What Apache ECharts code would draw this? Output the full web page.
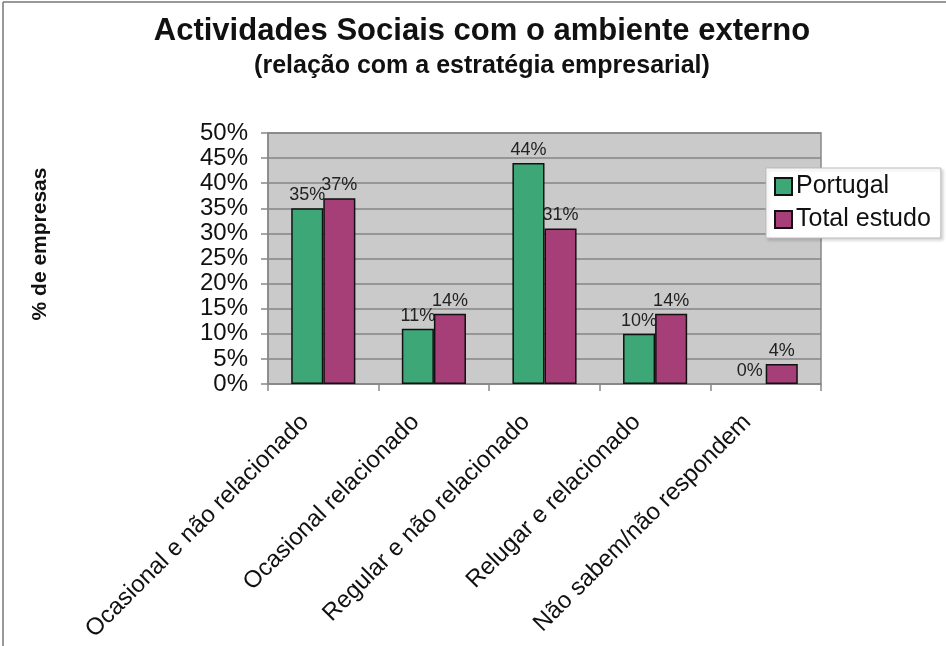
<!DOCTYPE html>
<html>
<head>
<meta charset="utf-8">
<script src="https://cdn.jsdelivr.net/npm/echarts@6/dist/echarts.min.js"></script>
<style>html,body{margin:0;padding:0;background:#fff}#c{width:946px;height:646px}</style>
</head>
<body>
<div id="c"></div>
<script>
var categories = ['Ocasional e não relacionado', 'Ocasional relacionado', 'Regular e não relacionado', 'Relugar e relacionado', 'Não sabem/não respondem'];
var portugal = [35, 11, 44, 10, 0];
var totalEstudo = [37, 14, 31, 14, 4];
var seriesNames = ['Portugal', 'Total estudo'];
var yTicks = [0, 5, 10, 15, 20, 25, 30, 35, 40, 45, 50];

var FONT = '"Liberation Sans", Arial, sans-serif';
var chart = echarts.init(document.getElementById('c'));
var labelCfg = {show: true, position: 'top', distance: 4, formatter: '{c}%', fontFamily: FONT, fontSize: 18, color: '#222'};
function toItems(arr) {
  return arr.map(function (v) { return v === 0 ? {value: v, itemStyle: {borderWidth: 0}} : v; });
}
chart.setOption({
  animation: false,
  backgroundColor: '#fff',
  title: {
    text: 'Actividades Sociais com o ambiente externo',
    subtext: '(relação com a estratégia empresarial)',
    left: 477, top: 11, textAlign: 'center', itemGap: 7,
    textStyle: {fontFamily: FONT, fontSize: 31, fontWeight: 'bold', color: '#111'},
    subtextStyle: {fontFamily: FONT, fontSize: 25, fontWeight: 'bold', color: '#111'}
  },
  legend: {
    orient: 'vertical', left: 766, top: 168,
    padding: [6, 10, 6, 8], itemGap: 8, itemWidth: 17, itemHeight: 17,
    backgroundColor: '#fff', borderColor: '#bbb', borderWidth: 1,
    shadowColor: 'rgba(0,0,0,0.15)', shadowBlur: 3, shadowOffsetX: 2, shadowOffsetY: 2,
    textStyle: {fontFamily: FONT, fontSize: 25, color: '#111', padding: [0, 0, 0, -1]},
    data: seriesNames,
    icon: 'rect'
  },
  grid: {left: 268, right: 125, top: 133, bottom: 262, containLabel: false, outerBoundsMode: 'none',
    show: true, backgroundColor: '#cacaca', borderColor: '#888', borderWidth: 1.5},
  xAxis: {
    type: 'category', data: categories,
    axisLine: {lineStyle: {color: '#888', width: 1.5}},
    axisTick: {show: true, length: 7, lineStyle: {color: '#888', width: 1.5}},
    axisLabel: {interval: 0, rotate: 45, margin: 16, padding: [0, 26, 35, 0], fontFamily: FONT, fontSize: 24, color: '#111'}
  },
  yAxis: {
    type: 'value', min: yTicks[0], max: yTicks[yTicks.length - 1], interval: 5,
    axisLine: {show: true, lineStyle: {color: '#888', width: 1.5}},
    axisTick: {show: true, length: 7, lineStyle: {color: '#888', width: 1.5}},
    splitLine: {lineStyle: {color: '#858585', width: 1.5}},
    axisLabel: {formatter: '{value}%', margin: 20, showMinLabel: true, showMaxLabel: true, hideOverlap: false, fontFamily: FONT, fontSize: 24, color: '#111'}
  },
  graphic: [
    {type: 'text', x: 40, y: 244, rotation: Math.PI / 2, style: {text: '% de empresas', font: 'bold 21px ' + FONT, fill: '#111', align: 'center', verticalAlign: 'middle'}},
    {type: 'line', shape: {x1: 3, y1: 2, x2: 3, y2: 646}, style: {stroke: '#777', lineWidth: 1.5}},
    {type: 'line', shape: {x1: 3, y1: 2, x2: 946, y2: 2}, style: {stroke: '#777', lineWidth: 1.5}}
  ],
  series: [
    {name: seriesNames[0], type: 'bar', data: toItems(portugal), barGap: '0%', barCategoryGap: '42%',
     itemStyle: {color: '#3ea778', borderColor: '#111', borderWidth: 1.5}, label: labelCfg},
    {name: seriesNames[1], type: 'bar', data: toItems(totalEstudo), barGap: '0%', barCategoryGap: '42%',
     itemStyle: {color: '#a63e78', borderColor: '#111', borderWidth: 1.5}, label: labelCfg}
  ]
});
</script>
</body>
</html>
